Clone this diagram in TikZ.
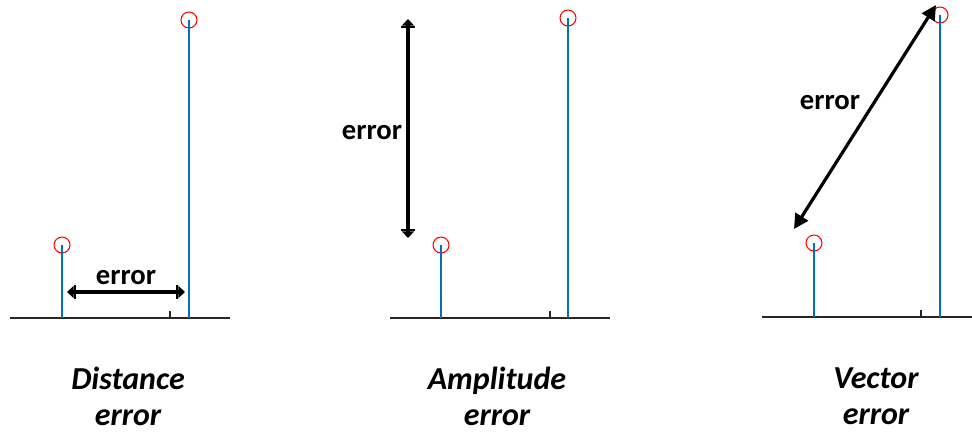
\documentclass[tikz,border=0pt]{standalone}
\usepackage{fontspec}
\setmainfont{Carlito}
\usetikzlibrary{arrows.meta}
\definecolor{stemblue}{HTML}{0072BD}
\definecolor{axisgray}{HTML}{262626}
\tikzset{
  baseline/.style={draw=axisgray, line width=1.4pt},
  stem/.style={draw=stemblue, line width=0.9pt},
  peak/.style={circle, draw=red, line width=0.8pt, minimum size=12pt, inner sep=0pt},
  errarrow/.style={line width=2.4pt, {Triangle[length=5pt,width=9pt] Bar[width=11pt,line width=1.8pt]}-{Bar[width=11pt,line width=1.8pt] Triangle[length=5pt,width=9pt]}},
  errlabel/.style={font=\fontsize{21.5}{25}\selectfont\bfseries},
  caption/.style={font=\fontsize{24}{27}\selectfont\bfseries\itshape, align=center}
}
\begin{document}
\begin{tikzpicture}[x=0.75pt, y=-0.75pt]
  \useasboundingbox (0,0) rectangle (972,432);

  % Panel 1 -- distance error
  \draw[baseline] (10,318) -- (230,318);
  \draw[axisgray, line width=0.8pt] (170,318) -- (170,311);
  \node[peak] (d1) at (62,245) {};
  \node[peak] (d2) at (189,20) {};
  \coordinate (d1b) at (62,318);
  \coordinate (d2b) at (189,318);
  \draw[stem] (d1b) -- (d1.center);
  \draw[stem] (d2b) -- (d2.center);
  \coordinate (da) at (67,292);
  \coordinate (db) at (185,292);
  \draw[errarrow] (da) -- (db);
  \node[errlabel] (dlab) at (126,278) {error};
  \node[caption] (dcap) at (128,396) {Distance\\error};

  % Panel 2 -- amplitude error
  \draw[baseline] (390,318) -- (610,318);
  \draw[axisgray, line width=0.8pt] (550,318) -- (550,311);
  \node[peak] (a1) at (441,245) {};
  \node[peak] (a2) at (568,18) {};
  \coordinate (a1b) at (441,318);
  \coordinate (a2b) at (568,318);
  \draw[stem] (a1b) -- (a1.center);
  \draw[stem] (a2b) -- (a2.center);
  \coordinate (aa) at (408,19);
  \coordinate (ab) at (408,238);
  \draw[errarrow] (aa) -- (ab);
  \node[errlabel] (alab) at (372,133) {error};
  \node[caption] (acap) at (497,396) {Amplitude\\error};

  % Panel 3 -- vector error
  \draw[baseline] (762,317) -- (972,317);
  \draw[axisgray, line width=0.8pt] (921,317) -- (921,310);
  \node[peak] (v1) at (814,243) {};
  \node[peak] (v2) at (940,15) {};
  \coordinate (v1b) at (814,317);
  \coordinate (v2b) at (940,317);
  \draw[stem] (v1b) -- (v1.center);
  \draw[stem] (v2b) -- (v2.center);
  \coordinate (va) at (794,229);
  \coordinate (vb) at (936,5);
  \draw[line width=2.4pt, {Triangle[length=11pt,width=11pt]}-{Triangle[length=11pt,width=11pt]}] (va) -- (vb);
  \node[errlabel] (vlab) at (830,103) {error};
  \node[caption] (vcap) at (876,396) {Vector\\error};
\end{tikzpicture}
\end{document}
